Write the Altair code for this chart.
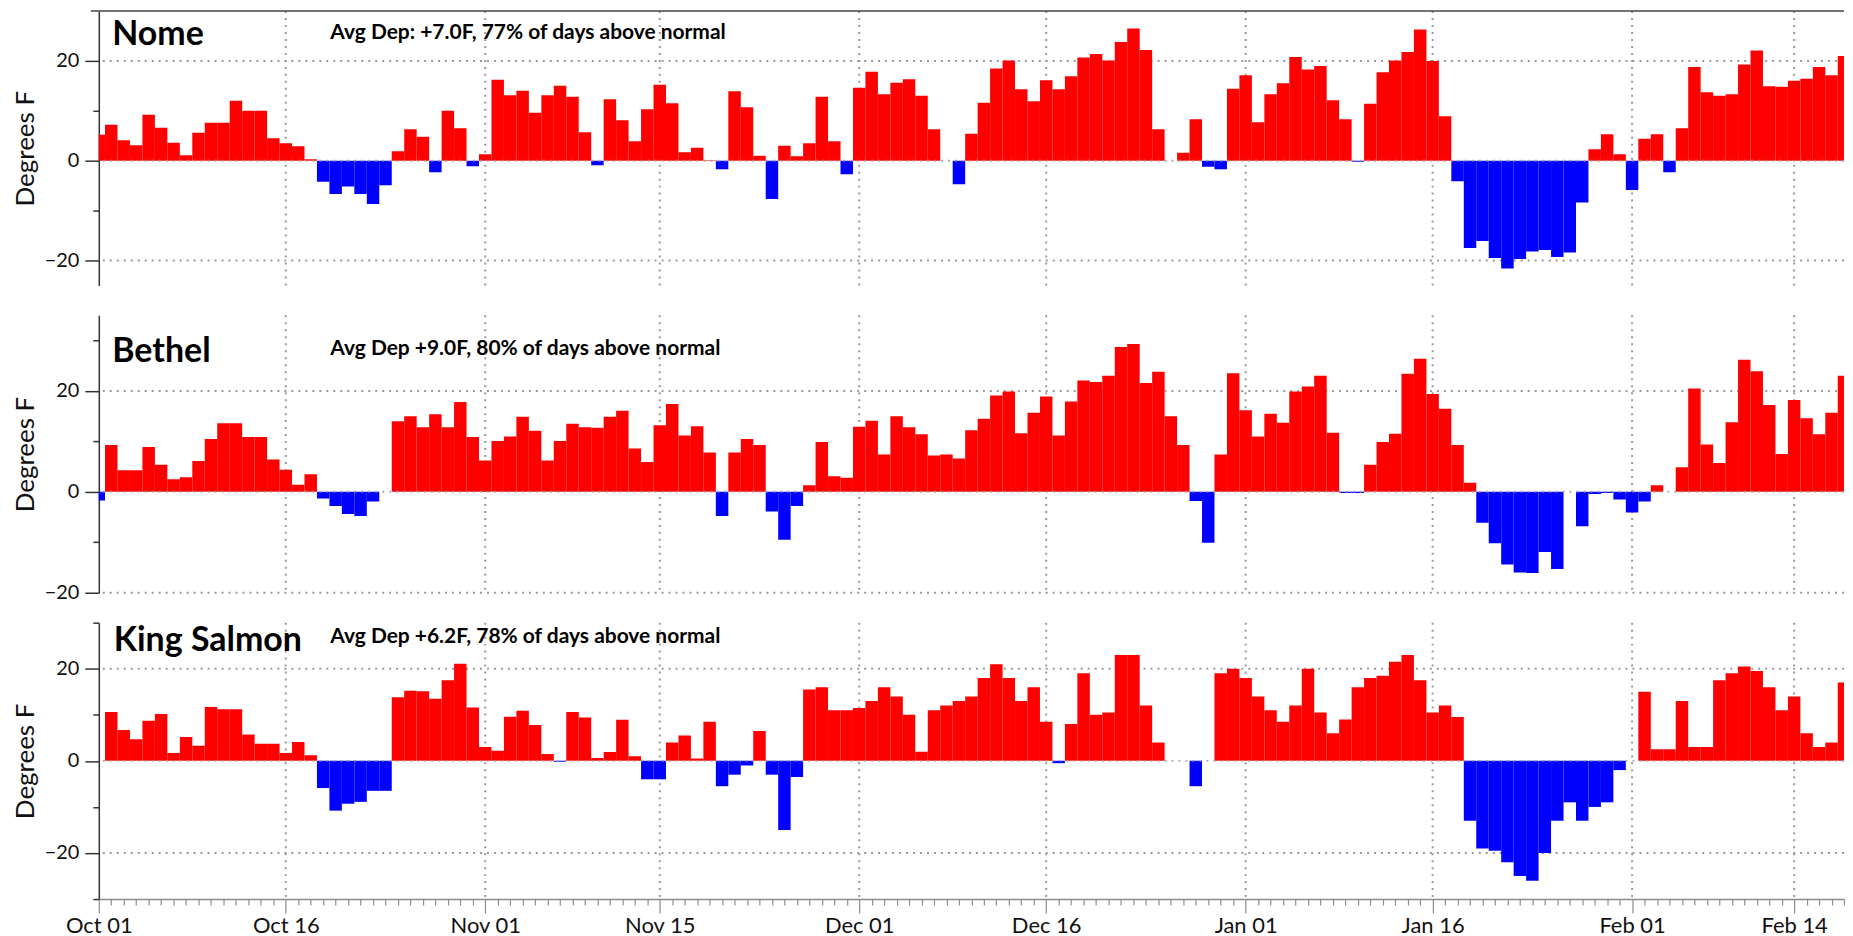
import altair as alt
import pandas as pd

FONT = "Lato"

# ---------------- data ----------------
STATIONS = ["Nome", "Bethel", "King Salmon"]
NOTES = [
    "Avg Dep: +7.0F, 77% of days above normal",
    "Avg Dep +9.0F, 80% of days above normal",
    "Avg Dep +6.2F, 78% of days above normal",
]
# x axis: day index counted from Oct 01
MAJOR_DAYS = [0, 15, 31, 45, 61, 76, 92, 107, 123, 136]
MAJOR_LABELS = ["Oct 01", "Oct 16", "Nov 01", "Nov 15", "Dec 01",
                "Dec 16", "Jan 01", "Jan 16", "Feb 01", "Feb 14"]
LAST_DAY = 140

NOME = [
    5.2, 7.2, 4.1, 3.1, 9.2, 6.6, 3.6, 1.1, 5.6, 7.6,
    7.6, 12.0, 10.0, 10.0, 4.5, 3.5, 2.9, 0.3, -4.2, -6.7,
    -5.2, -6.7, -8.7, -4.9, 1.9, 6.3, 4.8, -2.3, 10.0, 6.5,
    -1.1, 1.3, 16.2, 13.1, 14.0, 9.6, 13.1, 15.0, 12.8, 5.7,
    -0.9, 12.3, 8.1, 3.9, 10.3, 15.2, 11.5, 1.7, 2.6, 0.1,
    -1.7, 13.9, 10.7, 1.0, -7.7, 3.0, 0.9, 3.5, 12.8, 3.9,
    -2.7, 14.6, 17.8, 13.3, 15.6, 16.3, 13.0, 6.3, 0.0, -4.7,
    5.4, 11.6, 18.5, 20.1, 14.3, 11.9, 16.1, 14.3, 16.9, 20.7,
    21.4, 20.1, 23.8, 26.5, 22.2, 6.3, 0.0, 1.6, 8.3, -1.2,
    -1.7, 14.4, 17.1, 7.7, 13.3, 15.5, 20.8, 18.3, 19.0, 12.1,
    8.3, -0.2, 11.4, 17.7, 20.1, 21.8, 26.3, 20.0, 8.9, -4.1,
    -17.5, -16.1, -19.5, -21.6, -19.7, -18.2, -17.9, -19.3, -18.4, -8.4,
    2.3, 5.3, 1.3, -5.9, 4.4, 5.3, -2.3, 6.5, 18.8, 13.7,
    13.0, 13.3, 19.3, 22.1, 14.9, 14.8, 16.0, 16.4, 18.8, 17.1,
    21.0,
]
BETHEL = [
    -1.7, 9.3, 4.3, 4.3, 8.9, 5.4, 2.5, 2.9, 6.1, 10.5,
    13.6, 13.6, 10.9, 10.9, 6.4, 4.4, 1.4, 3.5, -1.3, -2.8,
    -4.4, -4.8, -1.9, 0.0, 14.0, 15.0, 12.8, 15.4, 12.8, 17.8,
    10.9, 6.2, 10.1, 11.0, 14.9, 12.1, 6.2, 10.1, 13.5, 12.8,
    12.7, 14.9, 16.1, 8.6, 5.9, 13.2, 17.4, 11.2, 13.0, 7.8,
    -4.8, 7.8, 10.5, 9.3, -3.9, -9.5, -2.8, 1.3, 9.9, 3.1,
    2.8, 12.9, 14.1, 7.4, 15.0, 12.8, 11.4, 7.2, 7.4, 6.6,
    12.2, 14.5, 19.1, 19.9, 11.6, 15.7, 18.9, 11.2, 17.9, 22.1,
    21.8, 23.0, 28.7, 29.3, 21.6, 23.8, 15.0, 9.3, -1.8, -10.1,
    7.4, 23.5, 16.2, 11.0, 15.5, 13.7, 19.9, 20.9, 23.0, 11.7,
    -0.2, -0.2, 5.4, 9.9, 11.5, 23.4, 26.4, 19.4, 16.5, 9.3,
    1.8, -6.1, -10.2, -14.4, -16.0, -16.1, -11.9, -15.3, 0.0, -6.8,
    -0.4, -0.2, -1.5, -4.1, -1.9, 1.3, 0.0, 4.9, 20.5, 9.4,
    5.7, 13.8, 26.2, 23.9, 17.2, 7.5, 18.2, 14.6, 11.4, 15.7,
    23.0,
]
KING_SALMON = [
    0.0, 10.6, 6.7, 4.7, 8.7, 10.2, 1.7, 5.2, 3.3, 11.7,
    11.2, 11.2, 5.7, 3.7, 3.7, 1.7, 4.1, 1.2, -5.9, -10.8,
    -9.3, -8.9, -6.5, -6.5, 13.8, 15.2, 15.1, 13.5, 17.5, 21.1,
    11.6, 3.0, 2.2, 9.6, 10.9, 7.8, 1.5, -0.2, 10.6, 9.4,
    0.6, 1.9, 8.9, 1.0, -4.0, -4.0, 4.0, 5.5, 0.5, 8.5,
    -5.5, -3.0, -1.0, 6.5, -3.0, -15.0, -3.5, 15.5, 16.0, 11.0,
    11.0, 11.5, 13.0, 16.0, 14.0, 10.0, 2.0, 11.0, 12.0, 13.0,
    14.0, 18.0, 21.0, 18.0, 13.0, 16.0, 8.5, -0.5, 8.0, 19.0,
    10.0, 10.5, 23.0, 23.0, 12.0, 4.0, 0.0, 0.0, -5.5, 0.0,
    19.0, 20.0, 18.0, 14.0, 11.0, 8.5, 12.0, 20.0, 10.5, 6.0,
    9.0, 16.0, 18.0, 18.5, 21.5, 23.0, 17.5, 10.5, 12.0, 9.5,
    -13.0, -19.0, -19.5, -22.0, -25.0, -26.0, -20.0, -13.0, -9.0, -13.0,
    -10.0, -9.0, -2.0, 0.0, 15.0, 2.5, 2.5, 13.0, 3.0, 3.0,
    17.5, 19.0, 20.5, 19.5, 16.0, 11.0, 14.0, 6.0, 3.0, 4.0,
    17.0,
]
SERIES = [NOME, BETHEL, KING_SALMON]
Y_DOMAINS = [[-25, 30], [-20, 35], [-30, 30]]
Y_TICKS = [[-20, -10, 0, 10, 20], [-20, -10, 0, 10, 20, 30],
           [-30, -20, -10, 0, 10, 20, 30]]
Y_GRID = [-20, 20]
ZERO = [0]

# ---------------- layout ----------------
PX_PER_DAY = 12.49
W = round(LAST_DAY * PX_PER_DAY)
HEIGHTS = [275, 278, 277]
NAME_POS = [(13.5, 34), (13.5, 47), (15, 28)]
NOTE_POS = [(232, 28), (232, 40), (232, 20)]

RED = "#ff0000"
BLUE = "#0000ff"
GRID_COLOR = "#9a9a9a"

major_js = "[" + ",".join(str(d) for d in MAJOR_DAYS) + "]"
labels_js = "[" + ",".join("'" + s + "'" for s in MAJOR_LABELS) + "]"
is_major = f"indexof({major_js}, datum.value) >= 0"

xscale = alt.Scale(domain=[0, LAST_DAY], nice=False, zero=False)

X_AXIS = alt.Axis(
    values=list(range(0, LAST_DAY + 1)),
    labelExpr=f"{is_major} ? {labels_js}[indexof({major_js}, datum.value)] : ''",
    tickSize={"condition": {"test": is_major, "value": 14}, "value": 6},
    labelOverlap=False, labelFlush=False, grid=False, title=None,
    domainColor="#8c8c8c", domainWidth=1.5, tickColor="#8c8c8c", tickWidth=1.2,
    labelFont=FONT, labelFontSize=22, labelColor="#111", labelPadding=3,
)


def panel(i):
    vals = SERIES[i]
    df = pd.DataFrame({"day": list(range(len(vals))), "dep": vals})
    df["start"] = df["day"] - 0.5
    df["end"] = df["day"] + 0.5
    yscale = alt.Scale(domain=Y_DOMAINS[i], nice=False, zero=False)
    y_axis = alt.Axis(
        values=Y_TICKS[i],
        labelExpr="datum.value % 20 === 0 ? datum.label : ''",
        tickSize={"condition": {"test": "datum.value % 20 === 0", "value": 14}, "value": 6},
        grid=False, labelOverlap=False,
        title="Degrees F", titleFont=FONT, titleFontSize=26, titleFontWeight="normal",
        titleColor="#111", titlePadding=6,
        labelFont=FONT, labelFontSize=20, labelColor="#111", labelPadding=6,
        domainColor="#333", domainWidth=1.5, tickColor="#333", tickWidth=1.5,
    )
    bottom = i == len(SERIES) - 1
    xa = X_AXIS if bottom else None

    hgrid = alt.Chart(pd.DataFrame({"v": Y_GRID})).mark_rule(
        color=GRID_COLOR, strokeDash=[2, 5], strokeWidth=2
    ).encode(y=alt.Y("v:Q", scale=yscale, axis=y_axis))

    vgrid = alt.Chart(pd.DataFrame({"g": MAJOR_DAYS[1:]})).mark_rule(
        color=GRID_COLOR, strokeDash=[2, 5], strokeWidth=2
    ).encode(x=alt.X("g:Q", scale=xscale, axis=xa))

    bars = alt.Chart(df).mark_rect(clip=True).encode(
        x=alt.X("start:Q", scale=xscale, axis=xa),
        x2="end:Q",
        y=alt.Y("dep:Q", scale=yscale, axis=y_axis),
        y2=alt.datum(0),
        color=alt.condition("datum.dep >= 0", alt.value(RED), alt.value(BLUE)),
    )

    zero = alt.Chart(pd.DataFrame({"z": ZERO})).mark_rule(
        color=GRID_COLOR, strokeDash=[2, 5], strokeWidth=2, opacity=0.8
    ).encode(y=alt.Y("z:Q", scale=yscale, axis=y_axis))

    name = alt.Chart(pd.DataFrame({"t": [STATIONS[i]]})).mark_text(
        align="left", baseline="alphabetic", font=FONT, fontWeight="bold",
        fontSize=34, color="#000"
    ).encode(text="t:N", x=alt.value(NAME_POS[i][0]), y=alt.value(NAME_POS[i][1]))

    note = alt.Chart(pd.DataFrame({"t": [NOTES[i]]})).mark_text(
        align="left", baseline="alphabetic", font=FONT, fontWeight="bold",
        fontSize=21, color="#000"
    ).encode(text="t:N", x=alt.value(NOTE_POS[i][0]), y=alt.value(NOTE_POS[i][1]))

    layers = [hgrid, vgrid, bars, zero]
    if i == 0:
        top = alt.Chart(pd.DataFrame({"v": [Y_DOMAINS[0][1]]})).mark_rule(
            color="#444", strokeWidth=1.5
        ).encode(y=alt.Y("v:Q", scale=yscale, axis=y_axis),
                 x=alt.value(-8), x2=alt.value(W))
        layers.append(top)
    layers += [name, note]
    return alt.layer(*layers).properties(width=W, height=HEIGHTS[i])


chart = alt.vconcat(
    *[panel(i) for i in range(len(SERIES))], spacing=30, bounds="flush"
).properties(
    padding={"left": 4, "top": 1, "right": 0, "bottom": 0}
).configure(font=FONT).configure_view(strokeWidth=0)

chart.save("out.html", embed_options={"renderer": "svg", "actions": False})
